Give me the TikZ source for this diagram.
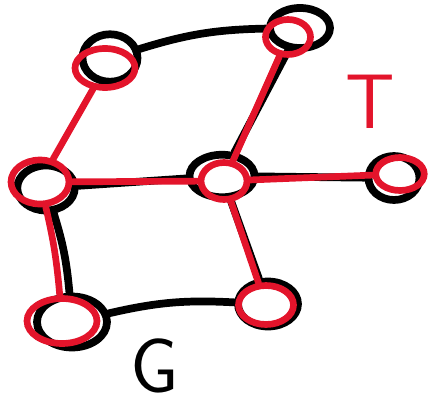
\documentclass[tikz,border=0pt]{standalone}
\usepackage{xcolor}
\usepackage{tikz}
\usetikzlibrary{shapes.geometric}
\definecolor{treered}{HTML}{E3142B}

\begin{document}
\begin{tikzpicture}[
    x=0.02cm, y=-0.02cm,
    gnode/.style = {ellipse, draw=black, line width=4.4pt, inner sep=0pt},
    tnode/.style = {ellipse, draw=treered, line width=3.8pt, inner sep=0pt},
    gedge/.style = {draw=black, line width=4.4pt, line cap=round},
    tedge/.style = {draw=treered, line width=3.8pt, line cap=round},
    label/.style = {font=\fontsize{44}{44}\selectfont\sffamily}
  ]
    \useasboundingbox (0,0) rectangle (433,406);

    % Graph G
    \node[gnode, minimum width=1.1cm, minimum height=0.95cm] (ga) at (110,58) {};
    \node[gnode, minimum width=1.2cm, minimum height=0.8cm] (gb) at (300,28) {};
    \node[gnode, minimum width=1.15cm, minimum height=0.9cm] (gc) at (46,188) {};
    \node[gnode, minimum width=1.3cm, minimum height=0.85cm] (gd) at (222,176) {};
    \node[gnode, minimum width=1.02cm, minimum height=0.88cm] (ge) at (394,178) {};
    \node[gnode, minimum width=1.4cm, minimum height=1.02cm] (gf) at (72,322) {};
    \node[gnode, minimum width=1.2cm, minimum height=0.9cm] (gg) at (268,304) {};

    \draw[gedge] (ga) to[bend left=8] (gb);
    \draw[gedge] (gb) -- (gd);
    \draw[gedge] (gc) -- (gd);
    \draw[gedge] (gd) -- (ge);
    \draw[gedge] (gc) to[bend left=6] (gf);
    \draw[gedge] (gd) -- (gg);
    \draw[gedge] (gf) to[bend left=8] (gg);

    % Spanning tree T
    \node[tnode, minimum width=1.2cm, minimum height=0.78cm] (ta) at (105,68) {};
    \node[tnode, minimum width=0.9cm, minimum height=0.7cm] (tb) at (288,37) {};
    \node[tnode, minimum width=1.16cm, minimum height=0.88cm] (tc) at (40,182) {};
    \node[tnode, minimum width=0.92cm, minimum height=0.74cm] (td) at (224,181) {};
    \node[tnode, minimum width=0.97cm, minimum height=0.66cm] (te) at (400,174) {};
    \node[tnode, minimum width=1.4cm, minimum height=0.9cm] (tf) at (62,321) {};
    \node[tnode, minimum width=1.1cm, minimum height=0.78cm] (tg) at (266,305) {};

    \draw[tedge] (ta) -- (tc);
    \draw[tedge] (tb) -- (td);
    \draw[tedge] (tc) -- (td);
    \draw[tedge] (td) -- (te);
    \draw[tedge] (tc) to[bend left=4] (tf);
    \draw[tedge] (td) -- (tg);

    % Labels
    \node[label, text=treered] (tlabel) at (370,102) {T};
    \node[label, text=black] (glabel) at (155,366) {G};

  \end{tikzpicture}
\end{document}
